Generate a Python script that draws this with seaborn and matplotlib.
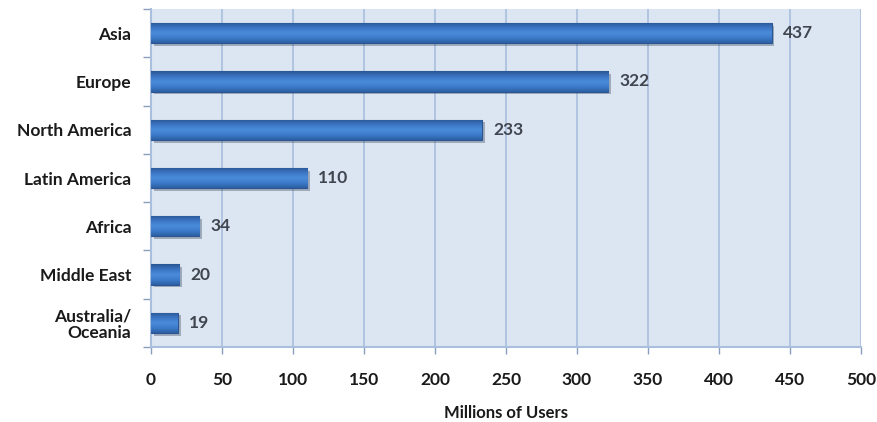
import numpy as np
import pandas as pd
import matplotlib
matplotlib.use("Agg")
import matplotlib.pyplot as plt
import matplotlib.patheffects as pe
from matplotlib.colors import LinearSegmentedColormap
import seaborn as sns

regions = ["Asia", "Europe", "North America", "Latin America", "Africa",
           "Middle East", "Australia/\nOceania"]
users = [437, 322, 233, 110, 34, 20, 19]
x_ticks = [0, 50, 100, 150, 200, 250, 300, 350, 400, 450, 500]
x_label = "Millions of Users"

sns.set_theme(style="white")
plt.rcParams['font.family'] = ['Lato', 'DejaVu Sans']

df = pd.DataFrame({"region": regions, "users": users})

fig = plt.figure(figsize=(8.78, 4.22), dpi=100)
ax = fig.add_axes([151/878, 1-347/422, (861-151)/878, (347-9)/422])
ax.set_facecolor("#DCE6F2")

sns.barplot(data=df, y="region", x="users", orient="h", ax=ax,
            color="#3C78C8", width=0.42, edgecolor="#2A5591", linewidth=0.8,
            saturation=1, zorder=3)

cmap = LinearSegmentedColormap.from_list("b", ["#2C5FA3", "#3D7CCB", "#4A8BDA", "#3A74C2", "#2A5694"])
for p in list(ax.patches):
    x0, y0 = p.get_x(), p.get_y()
    w, h = p.get_width(), p.get_height()
    p.set_path_effects([pe.SimplePatchShadow(offset=(2, -2), alpha=0.3), pe.Normal()])
    im = ax.imshow(np.linspace(0, 1, 50).reshape(-1, 1), cmap=cmap, aspect="auto",
                   extent=(x0, x0 + w, y0, y0 + h), zorder=4, interpolation="bilinear")
    im.set_clip_path(p)

ax.set_xlim(0, 500)
ax.set_ylim(len(regions) - 0.5, -0.5)
ax.set_xticks(x_ticks)
ax.set_xticklabels([str(t) for t in x_ticks], fontsize=12.5, fontweight="bold", color="#1a1a1a")
ax.set_xlabel(x_label, fontsize=12, fontweight="bold", color="#1a1a1a", labelpad=12)
ax.set_ylabel("")
ax.tick_params(axis="y", length=0, pad=14)
ax.set_yticklabels(regions, fontsize=12.5, fontweight="bold", color="#1a1a1a", ha="right",
                   linespacing=1.05)
for lbl in ax.get_yticklabels():
    lbl.set_multialignment("right")

ax.set_yticks(np.arange(-0.5, len(regions), 1), minor=True)
ax.tick_params(axis="y", which="minor", length=6, color="#8A9FBF", width=1, direction="out", left=True)
ax.tick_params(axis="x", which="major", length=5, color="#8A9FBF", width=1, direction="out",
               bottom=True, pad=13)

ax.grid(axis="x", color="#A9BFDD", linewidth=1.2, zorder=0)
ax.set_axisbelow(True)
for s in ["top", "right"]:
    ax.spines[s].set_visible(False)
for s in ["left", "bottom"]:
    ax.spines[s].set_color("#A9BFDD")
    ax.spines[s].set_linewidth(1.5)

for c in ax.containers:
    ax.bar_label(c, labels=[str(v) for v in users], padding=8, fontsize=12.5,
                 fontweight="bold", color="#404650")

fig.savefig("out.png", dpi=100)
